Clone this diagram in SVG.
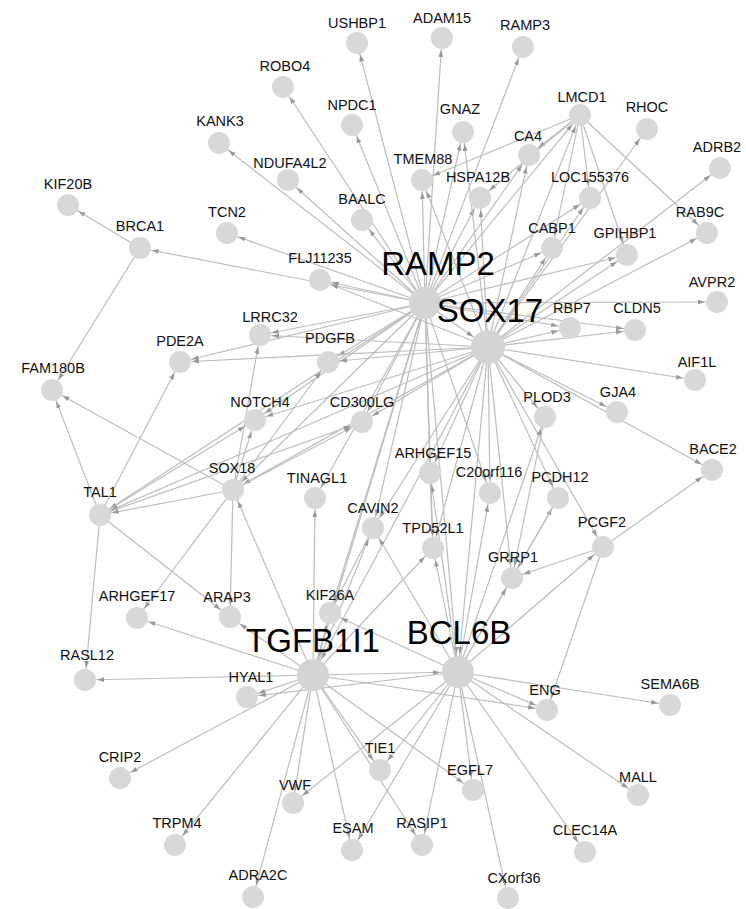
<svg xmlns="http://www.w3.org/2000/svg" width="746" height="909" viewBox="0 0 746 909">
<defs>
<style>
.bg{fill:#fff}
#edges line{stroke:#bdbdbd;stroke-width:1.2;marker-end:url(#a)}
#edges line.h{marker-end:url(#ah)}
.nd circle{fill:#d8d8d8}
.nd text{font-family:"Liberation Sans",Arial,sans-serif;font-size:14.5px;fill:#111;text-anchor:middle}
.hub circle{fill:#d4d4d4}
.hub text{font-family:"Liberation Sans",Arial,sans-serif;font-size:33px;fill:#000;text-anchor:middle}
</style>
<marker id="a" markerUnits="userSpaceOnUse" markerWidth="8" markerHeight="6" refX="19" refY="3" orient="auto"><path d="M0,0.6L7,3L0,5.4z" fill="#999"/></marker>
<marker id="ah" markerUnits="userSpaceOnUse" markerWidth="8" markerHeight="6" refX="25" refY="3" orient="auto"><path d="M0,0.6L7,3L0,5.4z" fill="#999"/></marker>
</defs>
<rect class="bg" width="746" height="909"/>
<g id="edges">
<!-- RAMP2 -->
<line x1="425" y1="303" x2="357" y2="43"/>
<line x1="425" y1="303" x2="442" y2="38"/>
<line x1="425" y1="303" x2="523" y2="47"/>
<line x1="425" y1="303" x2="283" y2="87"/>
<line x1="425" y1="303" x2="352" y2="125"/>
<line x1="425" y1="303" x2="219" y2="143"/>
<line x1="425" y1="303" x2="288" y2="180"/>
<line x1="425" y1="303" x2="362" y2="220"/>
<line x1="425" y1="303" x2="227" y2="233"/>
<line x1="425" y1="303" x2="140" y2="248"/>
<line x1="425" y1="303" x2="320" y2="280"/>
<line x1="425" y1="303" x2="422" y2="180"/>
<line x1="425" y1="303" x2="463" y2="132"/>
<line x1="425" y1="303" x2="480" y2="198"/>
<line x1="425" y1="303" x2="529" y2="155"/>
<line x1="425" y1="303" x2="580" y2="115"/>
<line x1="425" y1="303" x2="590" y2="198"/>
<line x1="425" y1="303" x2="552" y2="248"/>
<line x1="425" y1="303" x2="627" y2="255"/>
<line x1="425" y1="303" x2="717" y2="302"/>
<line x1="425" y1="303" x2="570" y2="328"/>
<line x1="425" y1="303" x2="635" y2="330"/>
<line x1="425" y1="303" x2="180" y2="362"/>
<line x1="425" y1="303" x2="260" y2="335"/>
<line x1="425" y1="303" x2="328" y2="362"/>
<line x1="425" y1="303" x2="255" y2="420"/>
<line x1="425" y1="303" x2="362" y2="422"/>
<line x1="425" y1="303" x2="233" y2="490"/>
<line x1="425" y1="303" x2="100" y2="515"/>
<line x1="425" y1="303" x2="430" y2="473"/>
<line x1="425" y1="303" x2="373" y2="528"/>
<line x1="425" y1="303" x2="330" y2="613"/>
<line x1="425" y1="303" x2="315" y2="498"/>
<line x1="425" y1="303" x2="490" y2="493"/>
<line x1="425" y1="303" x2="433" y2="548"/>
<line class="h" x1="425" y1="303" x2="488" y2="347"/>
<line class="h" x1="425" y1="303" x2="458" y2="672"/>
<line class="h" x1="425" y1="303" x2="313" y2="675"/>
<!-- SOX17 -->
<line x1="488" y1="347" x2="580" y2="115"/>
<line x1="488" y1="347" x2="647" y2="129"/>
<line x1="488" y1="347" x2="720" y2="168"/>
<line x1="488" y1="347" x2="707" y2="233"/>
<line x1="488" y1="347" x2="627" y2="255"/>
<line x1="488" y1="347" x2="552" y2="248"/>
<line x1="488" y1="347" x2="590" y2="198"/>
<line x1="488" y1="347" x2="570" y2="328"/>
<line x1="488" y1="347" x2="635" y2="330"/>
<line x1="488" y1="347" x2="695" y2="380"/>
<line x1="488" y1="347" x2="617" y2="412"/>
<line x1="488" y1="347" x2="712" y2="470"/>
<line x1="488" y1="347" x2="545" y2="417"/>
<line x1="488" y1="347" x2="558" y2="498"/>
<line x1="488" y1="347" x2="603" y2="547"/>
<line x1="488" y1="347" x2="512" y2="578"/>
<line x1="488" y1="347" x2="490" y2="493"/>
<line x1="488" y1="347" x2="430" y2="473"/>
<line x1="488" y1="347" x2="433" y2="548"/>
<line x1="488" y1="347" x2="373" y2="528"/>
<line x1="488" y1="347" x2="362" y2="422"/>
<line x1="488" y1="347" x2="328" y2="362"/>
<line x1="488" y1="347" x2="260" y2="335"/>
<line x1="488" y1="347" x2="255" y2="420"/>
<line x1="488" y1="347" x2="233" y2="490"/>
<line x1="488" y1="347" x2="100" y2="515"/>
<line x1="488" y1="347" x2="320" y2="280"/>
<line x1="488" y1="347" x2="463" y2="132"/>
<line x1="488" y1="347" x2="422" y2="180"/>
<line x1="488" y1="347" x2="480" y2="198"/>
<line x1="488" y1="347" x2="180" y2="362"/>
<line x1="488" y1="347" x2="529" y2="155"/>
<line class="h" x1="488" y1="347" x2="458" y2="672"/>
<line class="h" x1="488" y1="347" x2="313" y2="675"/>
<!-- LMCD1 -->
<line x1="580" y1="115" x2="422" y2="180"/>
<line x1="580" y1="115" x2="529" y2="155"/>
<line x1="580" y1="115" x2="590" y2="198"/>
<line x1="580" y1="115" x2="552" y2="248"/>
<line x1="580" y1="115" x2="627" y2="255"/>
<line x1="580" y1="115" x2="707" y2="233"/>
<line x1="580" y1="115" x2="480" y2="198"/>
<!-- left cluster -->
<line x1="140" y1="248" x2="68" y2="205"/>
<line x1="140" y1="248" x2="52" y2="390"/>
<line x1="100" y1="515" x2="52" y2="390"/>
<line x1="233" y1="490" x2="52" y2="390"/>
<line x1="100" y1="515" x2="180" y2="362"/>
<line x1="233" y1="490" x2="100" y2="515"/>
<line x1="100" y1="515" x2="85" y2="680"/>
<line x1="100" y1="515" x2="230" y2="617"/>
<line x1="100" y1="515" x2="255" y2="420"/>
<line x1="100" y1="515" x2="362" y2="422"/>
<line x1="233" y1="490" x2="260" y2="335"/>
<line x1="233" y1="490" x2="255" y2="420"/>
<line x1="233" y1="490" x2="328" y2="362"/>
<line x1="233" y1="490" x2="362" y2="422"/>
<line x1="233" y1="490" x2="230" y2="617"/>
<line x1="233" y1="490" x2="137" y2="618"/>
<!-- TGFB1I1 -->
<line x1="313" y1="675" x2="233" y2="490"/>
<line x1="313" y1="675" x2="315" y2="498"/>
<line x1="313" y1="675" x2="330" y2="613"/>
<line x1="313" y1="675" x2="373" y2="528"/>
<line x1="313" y1="675" x2="433" y2="548"/>
<line x1="313" y1="675" x2="247" y2="697"/>
<line x1="313" y1="675" x2="85" y2="680"/>
<line x1="313" y1="675" x2="137" y2="618"/>
<line x1="313" y1="675" x2="120" y2="778"/>
<line x1="313" y1="675" x2="175" y2="845"/>
<line x1="313" y1="675" x2="253" y2="897"/>
<line x1="313" y1="675" x2="293" y2="803"/>
<line x1="313" y1="675" x2="380" y2="770"/>
<line x1="313" y1="675" x2="352" y2="850"/>
<line x1="313" y1="675" x2="422" y2="845"/>
<line x1="313" y1="675" x2="473" y2="790"/>
<line x1="313" y1="675" x2="547" y2="710"/>
<line x1="313" y1="675" x2="230" y2="617"/>
<line class="h" x1="313" y1="675" x2="458" y2="672"/>
<!-- BCL6B -->
<line x1="458" y1="672" x2="293" y2="803"/>
<line x1="458" y1="672" x2="380" y2="770"/>
<line x1="458" y1="672" x2="352" y2="850"/>
<line x1="458" y1="672" x2="422" y2="845"/>
<line x1="458" y1="672" x2="473" y2="790"/>
<line x1="458" y1="672" x2="508" y2="898"/>
<line x1="458" y1="672" x2="585" y2="852"/>
<line x1="458" y1="672" x2="638" y2="795"/>
<line x1="458" y1="672" x2="670" y2="705"/>
<line x1="458" y1="672" x2="547" y2="710"/>
<line x1="458" y1="672" x2="433" y2="548"/>
<line x1="458" y1="672" x2="430" y2="473"/>
<line x1="458" y1="672" x2="373" y2="528"/>
<line x1="458" y1="672" x2="490" y2="493"/>
<line x1="458" y1="672" x2="558" y2="498"/>
<line x1="458" y1="672" x2="512" y2="578"/>
<line x1="458" y1="672" x2="603" y2="547"/>
<line x1="458" y1="672" x2="330" y2="613"/>
<line x1="458" y1="672" x2="247" y2="697"/>
<line x1="458" y1="672" x2="545" y2="417"/>
<!-- centre and right -->
<line x1="603" y1="547" x2="712" y2="470"/>
<line x1="603" y1="547" x2="547" y2="710"/>
<line x1="603" y1="547" x2="512" y2="578"/>
<line x1="558" y1="498" x2="512" y2="578"/>
<line x1="430" y1="473" x2="433" y2="548"/>
<line x1="545" y1="417" x2="512" y2="578"/>
<line x1="373" y1="528" x2="330" y2="613"/>
</g>
<g id="nodes">
<g id="n-USHBP1" class="nd"><circle cx="357" cy="43" r="11"/><text x="357" y="28">USHBP1</text></g>
<g id="n-ADAM15" class="nd"><circle cx="442" cy="38" r="11"/><text x="442" y="23">ADAM15</text></g>
<g id="n-RAMP3" class="nd"><circle cx="523" cy="47" r="11"/><text x="525" y="30">RAMP3</text></g>
<g id="n-ROBO4" class="nd"><circle cx="283" cy="87" r="11"/><text x="285" y="71">ROBO4</text></g>
<g id="n-NPDC1" class="nd"><circle cx="352" cy="125" r="11"/><text x="352" y="110">NPDC1</text></g>
<g id="n-GNAZ" class="nd"><circle cx="463" cy="132" r="11"/><text x="460" y="114">GNAZ</text></g>
<g id="n-LMCD1" class="nd"><circle cx="580" cy="115" r="11"/><text x="582" y="102">LMCD1</text></g>
<g id="n-RHOC" class="nd"><circle cx="647" cy="129" r="11"/><text x="647" y="112">RHOC</text></g>
<g id="n-KANK3" class="nd"><circle cx="219" cy="143" r="11"/><text x="220" y="126">KANK3</text></g>
<g id="n-CA4" class="nd"><circle cx="529" cy="155" r="11"/><text x="528" y="141">CA4</text></g>
<g id="n-TMEM88" class="nd"><circle cx="422" cy="180" r="11"/><text x="423" y="164">TMEM88</text></g>
<g id="n-NDUFA4L2" class="nd"><circle cx="288" cy="180" r="11"/><text x="290" y="168">NDUFA4L2</text></g>
<g id="n-HSPA12B" class="nd"><circle cx="480" cy="198" r="11"/><text x="478" y="182">HSPA12B</text></g>
<g id="n-LOC155376" class="nd"><circle cx="590" cy="198" r="11"/><text x="590" y="182">LOC155376</text></g>
<g id="n-ADRB2" class="nd"><circle cx="720" cy="168" r="11"/><text x="717" y="152">ADRB2</text></g>
<g id="n-KIF20B" class="nd"><circle cx="68" cy="205" r="11"/><text x="68" y="189">KIF20B</text></g>
<g id="n-BRCA1" class="nd"><circle cx="140" cy="248" r="11"/><text x="140" y="231">BRCA1</text></g>
<g id="n-TCN2" class="nd"><circle cx="227" cy="233" r="11"/><text x="227" y="217">TCN2</text></g>
<g id="n-BAALC" class="nd"><circle cx="362" cy="220" r="11"/><text x="362" y="204">BAALC</text></g>
<g id="n-CABP1" class="nd"><circle cx="552" cy="248" r="11"/><text x="552" y="233">CABP1</text></g>
<g id="n-GPIHBP1" class="nd"><circle cx="627" cy="255" r="11"/><text x="625" y="238">GPIHBP1</text></g>
<g id="n-RAB9C" class="nd"><circle cx="707" cy="233" r="11"/><text x="700" y="217">RAB9C</text></g>
<g id="n-FLJ11235" class="nd"><circle cx="320" cy="280" r="11"/><text x="320" y="263">FLJ11235</text></g>
<g id="n-AVPR2" class="nd"><circle cx="717" cy="302" r="11"/><text x="712" y="287">AVPR2</text></g>
<g id="n-RBP7" class="nd"><circle cx="570" cy="328" r="11"/><text x="572" y="313">RBP7</text></g>
<g id="n-CLDN5" class="nd"><circle cx="635" cy="330" r="11"/><text x="637" y="313">CLDN5</text></g>
<g id="n-LRRC32" class="nd"><circle cx="260" cy="335" r="11"/><text x="270" y="322">LRRC32</text></g>
<g id="n-PDE2A" class="nd"><circle cx="180" cy="362" r="11"/><text x="180" y="346">PDE2A</text></g>
<g id="n-PDGFB" class="nd"><circle cx="328" cy="362" r="11"/><text x="330" y="343">PDGFB</text></g>
<g id="n-FAM180B" class="nd"><circle cx="52" cy="390" r="11"/><text x="53" y="373">FAM180B</text></g>
<g id="n-AIF1L" class="nd"><circle cx="695" cy="380" r="11"/><text x="697" y="367">AIF1L</text></g>
<g id="n-PLOD3" class="nd"><circle cx="545" cy="417" r="11"/><text x="547" y="402">PLOD3</text></g>
<g id="n-GJA4" class="nd"><circle cx="617" cy="412" r="11"/><text x="618" y="397">GJA4</text></g>
<g id="n-NOTCH4" class="nd"><circle cx="255" cy="420" r="11"/><text x="260" y="407">NOTCH4</text></g>
<g id="n-CD300LG" class="nd"><circle cx="362" cy="422" r="11"/><text x="362" y="407">CD300LG</text></g>
<g id="n-BACE2" class="nd"><circle cx="712" cy="470" r="11"/><text x="713" y="454">BACE2</text></g>
<g id="n-ARHGEF15" class="nd"><circle cx="430" cy="473" r="11"/><text x="433" y="458">ARHGEF15</text></g>
<g id="n-C20orf116" class="nd"><circle cx="490" cy="493" r="11"/><text x="489" y="477">C20orf116</text></g>
<g id="n-SOX18" class="nd"><circle cx="233" cy="490" r="11"/><text x="232" y="473">SOX18</text></g>
<g id="n-TAL1" class="nd"><circle cx="100" cy="515" r="11"/><text x="100" y="497">TAL1</text></g>
<g id="n-TINAGL1" class="nd"><circle cx="315" cy="498" r="11"/><text x="317" y="483">TINAGL1</text></g>
<g id="n-PCDH12" class="nd"><circle cx="558" cy="498" r="11"/><text x="560" y="482">PCDH12</text></g>
<g id="n-CAVIN2" class="nd"><circle cx="373" cy="528" r="11"/><text x="373" y="513">CAVIN2</text></g>
<g id="n-TPD52L1" class="nd"><circle cx="433" cy="548" r="11"/><text x="433" y="533">TPD52L1</text></g>
<g id="n-PCGF2" class="nd"><circle cx="603" cy="547" r="11"/><text x="602" y="527">PCGF2</text></g>
<g id="n-GRRP1" class="nd"><circle cx="512" cy="578" r="11"/><text x="513" y="562">GRRP1</text></g>
<g id="n-KIF26A" class="nd"><circle cx="330" cy="613" r="11"/><text x="330" y="600">KIF26A</text></g>
<g id="n-ARHGEF17" class="nd"><circle cx="137" cy="618" r="11"/><text x="137" y="601">ARHGEF17</text></g>
<g id="n-ARAP3" class="nd"><circle cx="230" cy="617" r="11"/><text x="227" y="602">ARAP3</text></g>
<g id="n-RASL12" class="nd"><circle cx="85" cy="680" r="11"/><text x="87" y="660">RASL12</text></g>
<g id="n-HYAL1" class="nd"><circle cx="247" cy="697" r="11"/><text x="251" y="682">HYAL1</text></g>
<g id="n-ENG" class="nd"><circle cx="547" cy="710" r="11"/><text x="545" y="695">ENG</text></g>
<g id="n-SEMA6B" class="nd"><circle cx="670" cy="705" r="11"/><text x="670" y="689">SEMA6B</text></g>
<g id="n-TIE1" class="nd"><circle cx="380" cy="770" r="11"/><text x="380" y="753">TIE1</text></g>
<g id="n-EGFL7" class="nd"><circle cx="473" cy="790" r="11"/><text x="470" y="775">EGFL7</text></g>
<g id="n-CRIP2" class="nd"><circle cx="120" cy="778" r="11"/><text x="120" y="762">CRIP2</text></g>
<g id="n-VWF" class="nd"><circle cx="293" cy="803" r="11"/><text x="295" y="790">VWF</text></g>
<g id="n-MALL" class="nd"><circle cx="638" cy="795" r="11"/><text x="638" y="782">MALL</text></g>
<g id="n-TRPM4" class="nd"><circle cx="175" cy="845" r="11"/><text x="177" y="828">TRPM4</text></g>
<g id="n-ESAM" class="nd"><circle cx="352" cy="850" r="11"/><text x="353" y="833">ESAM</text></g>
<g id="n-RASIP1" class="nd"><circle cx="422" cy="845" r="11"/><text x="422" y="828">RASIP1</text></g>
<g id="n-CLEC14A" class="nd"><circle cx="585" cy="852" r="11"/><text x="585" y="835">CLEC14A</text></g>
<g id="n-ADRA2C" class="nd"><circle cx="253" cy="897" r="11"/><text x="258" y="880">ADRA2C</text></g>
<g id="n-CXorf36" class="nd"><circle cx="508" cy="898" r="11"/><text x="514" y="883">CXorf36</text></g>
<g id="n-RAMP2" class="hub"><circle cx="425" cy="303" r="16"/><text x="438" y="275">RAMP2</text></g>
<g id="n-SOX17" class="hub"><circle cx="488" cy="347" r="17"/><text x="490" y="322">SOX17</text></g>
<g id="n-TGFB1I1" class="hub"><circle cx="313" cy="675" r="16"/><text x="313" y="652">TGFB1I1</text></g>
<g id="n-BCL6B" class="hub"><circle cx="458" cy="672" r="16"/><text x="459" y="644">BCL6B</text></g>
</g>
</svg>
